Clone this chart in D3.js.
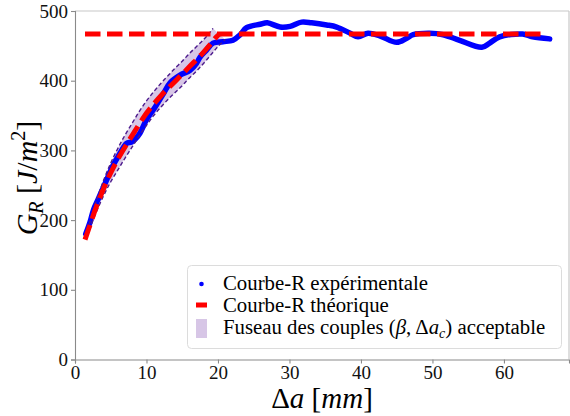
<!DOCTYPE html>
<html><head><meta charset="utf-8">
<script src="https://cdn.jsdelivr.net/npm/d3@7"></script>
<style>body{margin:0;background:#fff}svg{display:block}text{font-family:"Liberation Serif","DejaVu Serif",serif}</style>
</head><body><div id="c"></div>
<script>
// experimental R-curve (Δa in mm, G_R in J/m²)
const expDa = [1.5,2.1,2.6,3.2,4.4,5.3,6.3,7.2,7.9,8.5,9.1,10.0,11.2,12.4,13.3,14.7,16.1,17.0,17.5,18.4,19.3,20.7,22.1,23.1,24.0,25.9,26.9,28.7,30.1,31.7,33.1,35.2,36.6,38.5,39.6,41.0,42.7,45.0,46.4,47.3,49.6,51.5,53.8,56.9,58.0,59.4,62.6,64.0,66.4];
const expG  = [180,197,215,229,257,278,296,310,312,317,325,344,362,382,397,408,415,425,434,444,454,456,458,466,476,481,483,477,478,484,483,480,477,468,463,468,464,455,461,466,468,466,458,448,454,463,467,463,460];
// theoretical R-curve (rising part) and plateau
const thDa = [1.4,2.0,2.8,4.2,5.6,7.0,8.4,9.5,11.9,14.2,16.0,17.9,19.0,19.8,20.2];
const thG  = [172,190,214,250,280,305,328,346,377,401,420,440,453,463,467];
const plateauDa = [1.4,65.7];
const plateauG = 467;
// acceptable (beta, Δa_c) band envelopes
const upDa = [2,3,4,5,6,7,8,9,10,11,12,13,14,15,16,17,18,18.7,19.3];
const upG  = [194,228,257,282,303,322,339,356,371,384,396,407,418,428,439,449,459,467,475];
const loDa = [2,3,4,5,6,7,8,9,10,11,12,13,14,15,16,17,18,19,20,21];
const loG  = [186,212,235,255,272,289,305,321,336,350,362,373,383,393,404,414,425,437,449,459];
const xTicks = [0,10,20,30,40,50,60];
const yTicks = [0,100,200,300,400,500];
const legendLabels = ["Courbe-R expérimentale","Courbe-R théorique","Fuseau des couples"];

const W=570,H=416, L=75,R=569,T=11,B=359.5;
const svg=d3.select("#c").append("svg").attr("width",W).attr("height",H);
const x=d3.scaleLinear().domain([0,69.1]).range([L,R]);
const y=d3.scaleLinear().domain([0,500]).range([B,T]);

// spines
svg.append("line").attr("x1",L).attr("x2",R).attr("y1",T).attr("y2",T).attr("stroke","#c8c8c8").attr("stroke-width",1.2);
svg.append("line").attr("x1",R).attr("x2",R).attr("y1",T).attr("y2",B).attr("stroke","#c8c8c8").attr("stroke-width",1.2);

const xa=svg.append("g").attr("transform",`translate(0,${B})`).call(d3.axisBottom(x).tickValues(xTicks).tickSize(4).tickPadding(2).tickFormat(d3.format("d")));
const ya=svg.append("g").attr("transform",`translate(${L},0)`).call(d3.axisLeft(y).tickValues(yTicks).tickSize(4).tickPadding(3).tickFormat(d3.format("d")));
[xa,ya].forEach(g=>{g.selectAll("path,line").attr("stroke","#8a8a8a").attr("stroke-width",1.1);
  g.selectAll("text").attr("fill","#111").style("font-size","19px").style("font-family","'Liberation Serif',serif");});

const line=d3.line().x(d=>x(d[0])).y(d=>y(d[1])).curve(d3.curveCatmullRom);
const upPts=upDa.map((d,i)=>[d,upG[i]]), loPts=loDa.map((d,i)=>[d,loG[i]]);
// band fill
const bandPath = line(upPts) + "L" + line(loPts.slice().reverse()).slice(1) + "Z";
svg.append("path").attr("d",bandPath).attr("fill","#c9b3de").attr("fill-opacity",0.75).attr("stroke","none");
// experimental
svg.append("path").attr("d",line(expDa.map((d,i)=>[d,expG[i]]))).attr("fill","none").attr("stroke","#0000ff").attr("stroke-width",5.5).attr("stroke-linecap","round").attr("stroke-linejoin","round");
// band borders
[upPts,loPts].forEach(p=>svg.append("path").attr("d",line(p)).attr("fill","none").attr("stroke","#4b1a8c").attr("stroke-width",1.4).attr("stroke-dasharray","4,2.5"));
// theoretical
svg.append("path").attr("d",d3.line().x(d=>x(d[0])).y(d=>y(d[1])).curve(d3.curveMonotoneX)(thDa.map((d,i)=>[d,thG[i]]))).attr("fill","none").attr("stroke","#ff0000").attr("stroke-width",5).attr("stroke-dasharray","15.5,6.5");
svg.append("line").attr("x1",x(plateauDa[0])).attr("x2",x(plateauDa[1])).attr("y1",y(plateauG)).attr("y2",y(plateauG)).attr("stroke","#ff0000").attr("stroke-width",5).attr("stroke-dasharray","15.5,6.5");

// legend
const lg=svg.append("g");
lg.append("rect").attr("x",187.5).attr("y",265.5).attr("width",374).attr("height",83).attr("rx",4).attr("fill","#fff").attr("fill-opacity",0.85).attr("stroke","#dcdcdc");
lg.append("circle").attr("cx",201.5).attr("cy",284).attr("r",2.3).attr("fill","#0000ff");
lg.append("line").attr("x1",196).attr("x2",207).attr("y1",305).attr("y2",305).attr("stroke","#ff0000").attr("stroke-width",5);
lg.append("rect").attr("x",196).attr("y",319).attr("width",11).attr("height",19).attr("fill","#c9b3de").attr("fill-opacity",0.75);
const fs="20.8px";
lg.append("text").attr("x",223).attr("y",290).style("font-size",fs).text(legendLabels[0]);
lg.append("text").attr("x",223).attr("y",312).style("font-size",fs).text(legendLabels[1]);
const t3=lg.append("text").attr("x",223).attr("y",334).style("font-size",fs);
t3.append("tspan").text(legendLabels[2]+" (");
t3.append("tspan").style("font-style","italic").text("β");
t3.append("tspan").text(", Δ");
t3.append("tspan").style("font-style","italic").text("a");
t3.append("tspan").style("font-style","italic").style("font-size","14px").attr("dy",4).text("c");
t3.append("tspan").attr("dy",-4).text(") acceptable");

// axis titles
const xl=svg.append("text").attr("x",322).attr("y",408).attr("text-anchor","middle").style("font-size","29px");
xl.append("tspan").text("Δ");
xl.append("tspan").style("font-style","italic").text("a");
xl.append("tspan").text(" [");
xl.append("tspan").style("font-style","italic").text("mm");
xl.append("tspan").text("]");
const yl=svg.append("text").attr("transform","translate(37,178) rotate(-90)").attr("text-anchor","middle").style("font-size","30px");
yl.append("tspan").style("font-style","italic").text("G");
yl.append("tspan").style("font-style","italic").style("font-size","20px").attr("dy",6).text("R");
yl.append("tspan").attr("dy",-6).text(" [");
yl.append("tspan").style("font-style","italic").text("J");
yl.append("tspan").text("/");
yl.append("tspan").style("font-style","italic").text("m");
yl.append("tspan").style("font-size","20px").attr("dy",-12).text("2");
yl.append("tspan").attr("dy",12).text("]");
</script></body></html>
